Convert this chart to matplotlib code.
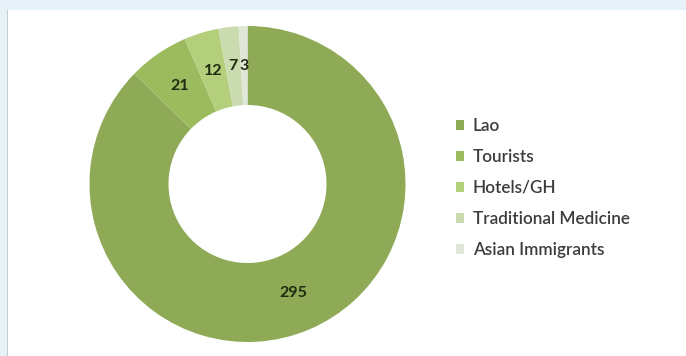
import matplotlib.pyplot as plt
from matplotlib.patches import Rectangle

# data
categories = ["Lao", "Tourists", "Hotels/GH", "Traditional Medicine", "Asian Immigrants"]
values = [295, 21, 12, 7, 3]
colors = ["#8eaa56", "#9cbb5f", "#b4cf7c", "#cbdbb0", "#e1e7d8"]

W, H = 686, 356
fig = plt.figure(figsize=(W / 100, H / 100), dpi=100)
fig.patch.set_facecolor("white")

# light blue frame on top and left, thin gray edge
fig.patches.append(Rectangle((0, 1 - 10 / H), 1, 10 / H, transform=fig.transFigure,
                             facecolor="#e6f1f8", edgecolor="none", zorder=0))
fig.patches.append(Rectangle((0, 0), 7 / W, 1, transform=fig.transFigure,
                             facecolor="#e6f1f8", edgecolor="none", zorder=0))
fig.patches.append(Rectangle((7 / W, 0), 1.5 / W, 1 - 10 / H, transform=fig.transFigure,
                             facecolor="#c8ccd0", edgecolor="none", zorder=0))

cx, cy, r = 247.5, 184, 158
ax = fig.add_axes([(cx - r) / W, (H - cy - r) / H, 2 * r / W, 2 * r / H])
wedges, texts = ax.pie(values, colors=colors, startangle=90, counterclock=False,
                       radius=1, labels=[str(v) for v in values], labeldistance=0.75,
                       wedgeprops=dict(width=0.5, edgecolor="none"),
                       textprops=dict(fontsize=11.5, color="#1f2a10", family="Lato",
                                      fontweight="bold", ha="center", va="center"))
ax.set_xlim(-1, 1)
ax.set_ylim(-1, 1)
ax.set_aspect("equal")
ax.axis("off")

leg = fig.legend(wedges, categories, loc="upper left",
                 bbox_to_anchor=(449 / W, 1 - 111 / H), frameon=False,
                 prop=dict(family="Lato", size=12.3, weight="semibold"),
                 handlelength=0.5, handleheight=0.5, handletextpad=0.5,
                 labelspacing=0.88, borderaxespad=0)
for t in leg.get_texts():
    t.set_color("#3c3c3c")

fig.savefig("out.png", dpi=100)
